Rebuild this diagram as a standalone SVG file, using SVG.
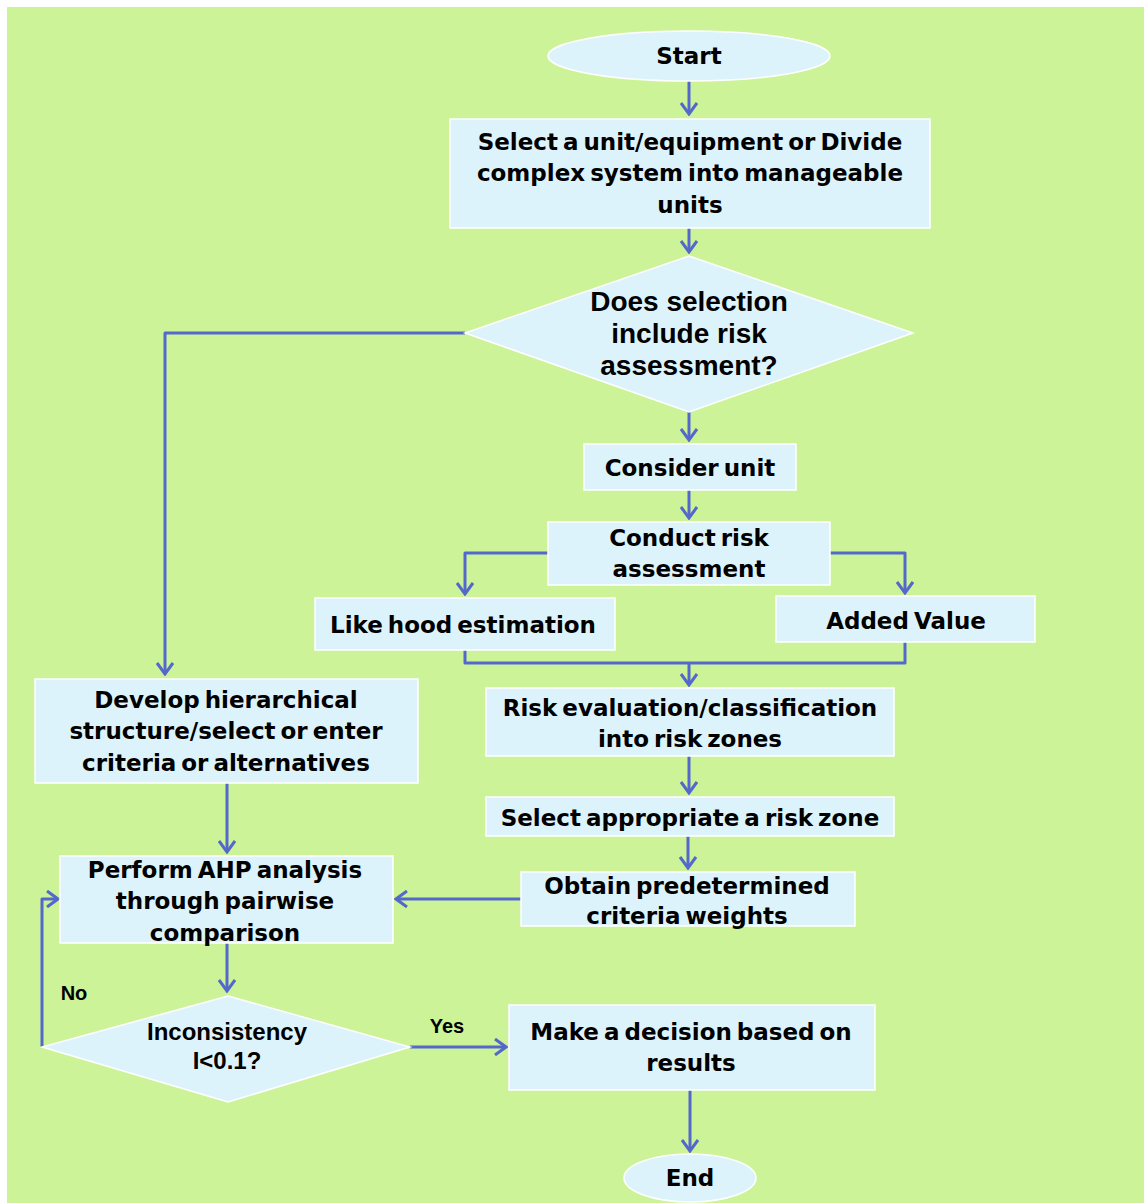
<svg xmlns="http://www.w3.org/2000/svg" width="1144" height="1203" viewBox="0 0 1144 1203">
<style>
.box{fill:#DDF3FC;stroke:#FFFFFF;stroke-width:1.5}
.t{font-family:"DejaVu Sans",Verdana,sans-serif;font-weight:bold;font-size:23px;fill:#000;text-anchor:middle;word-spacing:-3px}
.d{font-family:"Liberation Sans",Arial,sans-serif;font-weight:bold;fill:#000;text-anchor:middle}
.c{fill:none;stroke:#5468CC;stroke-width:3;stroke-linejoin:round}
</style>
<defs>
<marker id="ah" markerUnits="userSpaceOnUse" markerWidth="14" markerHeight="18" viewBox="0 0 14 18" refX="12" refY="9" orient="auto">
<path d="M1,1 L12,9 L1,17" fill="none" stroke="#5468CC" stroke-width="3"/>
</marker>
</defs>
<rect x="7" y="7" width="1137" height="1196" fill="#CCF398"/>

<g id="connectors">
<path class="c" d="M689,81 V114" marker-end="url(#ah)"/>
<path class="c" d="M689,228 V252" marker-end="url(#ah)"/>
<path class="c" d="M465,333 H165 V674" marker-end="url(#ah)"/>
<path class="c" d="M689,412 V440" marker-end="url(#ah)"/>
<path class="c" d="M689,490 V518" marker-end="url(#ah)"/>
<path class="c" d="M548,553 H465 V594" marker-end="url(#ah)"/>
<path class="c" d="M830,553 H905 V593" marker-end="url(#ah)"/>
<path class="c" d="M465,650 V663 H905 V642"/>
<path class="c" d="M689,663 V685" marker-end="url(#ah)"/>
<path class="c" d="M689,756 V793" marker-end="url(#ah)"/>
<path class="c" d="M688,836 V868" marker-end="url(#ah)"/>
<path class="c" d="M521,899 H396" marker-end="url(#ah)"/>
<path class="c" d="M227,783 V852" marker-end="url(#ah)"/>
<path class="c" d="M227,943 V991" marker-end="url(#ah)"/>
<path class="c" d="M42,1047 V899 H58" marker-end="url(#ah)"/>
<path class="c" d="M410,1047 H506" marker-end="url(#ah)"/>
<path class="c" d="M690,1090 V1151" marker-end="url(#ah)"/>
<text class="d" x="74" y="1000" font-size="20">No</text>
<text class="d" x="447" y="1033" font-size="20">Yes</text>
</g>

<g id="start">
<ellipse class="box" cx="689" cy="56" rx="141" ry="25"/>
<text class="t" x="689" y="64">Start</text>
</g>
<g id="select-unit">
<rect class="box" x="450" y="119" width="480" height="109"/>
<text class="t" x="690" y="150">Select a unit/equipment or Divide</text>
<text class="t" x="690" y="181">complex system into manageable</text>
<text class="t" x="690" y="213">units</text>
</g>
<g id="decision-risk">
<polygon class="box" points="689,256 913,333 689,412 465,333"/>
<text class="d" x="689" y="311" font-size="28">Does selection</text>
<text class="d" x="689" y="343" font-size="28">include risk</text>
<text class="d" x="689" y="375" font-size="28">assessment?</text>
</g>
<g id="consider-unit">
<rect class="box" x="584" y="444" width="212" height="46"/>
<text class="t" x="690" y="476">Consider unit</text>
</g>
<g id="conduct-risk">
<rect class="box" x="548" y="522" width="282" height="63"/>
<text class="t" x="689" y="546">Conduct risk</text>
<text class="t" x="689" y="577">assessment</text>
</g>
<g id="likehood">
<rect class="box" x="315" y="598" width="300" height="52"/>
<text class="t" x="463" y="633">Like hood estimation</text>
</g>
<g id="added-value">
<rect class="box" x="776" y="596" width="259" height="46"/>
<text class="t" x="906" y="629">Added Value</text>
</g>
<g id="risk-evaluation">
<rect class="box" x="486" y="688" width="408" height="68"/>
<text class="t" x="690" y="716">Risk evaluation/classification</text>
<text class="t" x="690" y="747">into risk zones</text>
</g>
<g id="select-zone">
<rect class="box" x="486" y="797" width="408" height="39"/>
<text class="t" x="690" y="826">Select appropriate a risk zone</text>
</g>
<g id="obtain-weights">
<rect class="box" x="521" y="872" width="334" height="54"/>
<text class="t" x="687" y="894">Obtain predetermined</text>
<text class="t" x="687" y="924">criteria weights</text>
</g>
<g id="develop-hierarchy">
<rect class="box" x="35" y="679" width="383" height="104"/>
<text class="t" x="226" y="708">Develop hierarchical</text>
<text class="t" x="226" y="739">structure/select or enter</text>
<text class="t" x="226" y="771">criteria or alternatives</text>
</g>
<g id="perform-ahp">
<rect class="box" x="60" y="856" width="333" height="87"/>
<text class="t" x="225" y="878">Perform AHP analysis</text>
<text class="t" x="225" y="909">through pairwise</text>
<text class="t" x="225" y="941">comparison</text>
</g>
<g id="inconsistency">
<polygon class="box" points="228,996 410,1047 228,1102 42,1047"/>
<text class="d" x="227" y="1040" font-size="24">Inconsistency</text>
<text class="d" x="227" y="1069" font-size="24">I&lt;0.1?</text>
</g>
<g id="make-decision">
<rect class="box" x="509" y="1005" width="366" height="85"/>
<text class="t" x="691" y="1040">Make a decision based on</text>
<text class="t" x="691" y="1071">results</text>
</g>
<g id="end">
<ellipse class="box" cx="690" cy="1178" rx="66" ry="24"/>
<text class="t" x="690" y="1186">End</text>
</g>
</svg>
